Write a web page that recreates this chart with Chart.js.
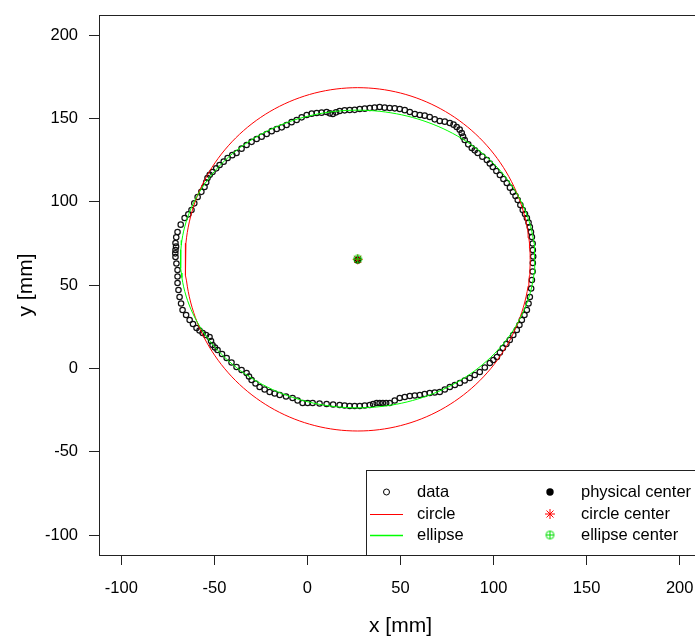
<!DOCTYPE html>
<html>
<head>
<meta charset="utf-8">
<script src="https://cdn.jsdelivr.net/npm/chart.js@4.4.1/dist/chart.umd.min.js"></script>
<style>
  html, body { margin: 0; padding: 0; background: #fff; overflow: hidden; }
  #wrap { width: 720px; height: 637px; }
</style>
</head>
<body>
<div id="wrap"><canvas id="chart"></canvas></div>
<script>
// outline points (mm), going clockwise from the left
const dataX = [-70.9,-70.6,-70.9,-70.5,-69.8,-68.1,-66.0,-64.0,-62.3,-60.8,
  -59.0,-57.0,-55.3,-54.4,-53.7,-52.5,-51.0,-49.0,-47.2,-45.0,
  -42.9,-40.4,-38.1,-35.4,-32.7,-30.0,-27.3,-24.6,-21.9,-19.2,
  -16.5,-13.8,-11.2,-8.5,-5.8,-3.1,-0.4,2.3,5.0,7.6,
  10.3,12.0,13.6,15.4,17.3,20.0,22.7,25.4,28.1,30.8,
  33.5,36.1,38.8,41.5,44.2,46.9,49.6,52.3,55.0,57.7,
  60.4,63.0,65.7,68.4,71.1,73.8,76.5,78.5,80.2,81.8,
  82.9,83.6,84.5,86.4,88.3,89.9,91.5,94.0,96.4,98.0,
  99.6,101.5,103.4,105.3,107.1,108.8,110.4,111.8,113.0,114.4,
  115.7,116.9,117.9,118.8,119.5,120.1,120.6,121.0,121.1,121.3,
  121.1,121.0,120.6,120.2,119.5,118.8,117.9,116.6,115.2,113.9,
  112.5,110.6,108.7,106.9,105.0,103.4,101.8,99.9,98.0,95.3,
  92.6,89.9,87.2,84.5,81.9,79.2,76.5,73.8,71.1,68.4,
  65.7,63.0,60.4,57.7,55.0,52.3,49.6,46.9,44.2,42.3,
  40.5,38.8,37.2,35.3,33.5,30.8,28.1,25.4,22.7,20.0,
  17.3,13.8,10.3,6.5,2.8,0.1,-2.6,-5.3,-8.0,-11.5,
  -14.9,-17.6,-20.3,-23.0,-25.7,-27.9,-30.0,-31.4,-32.7,-35.4,
  -38.1,-40.8,-43.4,-45.9,-48.3,-49.7,-51.0,-51.8,-52.6,-54.5,
  -56.3,-58.0,-59.6,-61.5,-63.3,-65.2,-67.1,-67.9,-68.7,-69.3,
  -69.8,-69.8,-69.8,-70.4,-70.9,-71.0];
const dataY = [71.0,73.0,75.2,78.6,81.8,86.2,90.2,92.4,95.0,99.0,
  102.8,105.9,108.8,111.6,114.2,116.1,117.8,120.0,122.0,124.0,
  126.2,127.9,129.2,131.8,134.0,135.9,137.6,139.0,140.6,142.3,
  143.6,144.6,146.0,147.7,149.0,150.6,152.0,152.8,153.2,153.4,
  153.8,153.0,152.6,153.6,154.4,154.8,155.0,155.1,155.6,155.8,
  156.2,156.4,156.8,156.4,156.2,156.0,155.6,154.9,153.8,152.6,
  152.0,151.6,150.8,149.4,148.4,148.0,147.2,146.2,144.8,143.2,
  141.2,139.0,137.0,134.4,132.2,130.8,129.2,127.0,125.0,122.9,
  120.8,118.4,116.0,113.6,111.2,108.4,105.8,103.4,101.0,98.0,
  95.0,92.6,90.2,87.5,84.8,81.8,78.8,74.9,71.0,67.1,
  63.2,58.1,53.0,47.9,42.8,38.9,35.0,32.0,29.0,26.0,
  23.0,20.0,17.0,14.6,12.2,9.5,6.8,5.0,3.2,0.5,
  -2.2,-4.0,-5.8,-7.3,-8.8,-10.0,-11.2,-12.7,-14.2,-14.5,
  -14.8,-15.4,-16.0,-16.3,-16.6,-17.2,-17.8,-19.3,-20.8,-20.8,
  -20.8,-20.8,-20.8,-21.4,-22.0,-22.3,-22.6,-22.6,-22.6,-22.3,
  -22.0,-21.7,-21.4,-21.1,-20.8,-20.8,-20.8,-19.3,-17.8,-16.9,
  -16.0,-15.1,-14.2,-12.7,-11.2,-9.1,-7.0,-4.9,-2.8,-1.0,
  0.8,3.5,6.2,8.6,11.0,12.5,14.0,16.4,18.8,20.0,
  21.2,22.7,24.2,26.6,29.0,32.0,35.0,38.9,42.8,47.0,
  51.2,55.1,59.0,62.9,66.8,69.0];

// fitted shapes: centre [x, y] and half-widths [x, y]
const circleCenter = [27, 65.4];
const circleRadius = [92.7, 103];
const ellipseCenter = [27, 65.6];
const ellipseRadius = [95.2, 89.3];
const physicalCenter = [27, 65];

const axisTicks = [-100, -50, 0, 50, 100, 150, 200];
const axisRange = [-112, 212];
const legendLabels = ['data', 'circle', 'ellipse', 'physical center', 'circle center', 'ellipse center'];

const FONT = '"Liberation Sans", Arial, sans-serif';

function outline(center, radius) {
    const pts = [];
    for (let i = 0; i <= 200; i++) {
        const a = i / 200 * 2 * Math.PI;
        pts.push({ x: center[0] + radius[0] * Math.cos(a), y: center[1] + radius[1] * Math.sin(a) });
    }
    return pts;
}

// R pch 10: circle with a plus
function circlePlus(color, r) {
    const c = document.createElement('canvas');
    const s = Math.ceil(r * 2 + 3);
    c.width = s; c.height = s;
    const g = c.getContext('2d');
    g.strokeStyle = color; g.lineWidth = 1;
    g.beginPath(); g.arc(s / 2, s / 2, r, 0, Math.PI * 2); g.stroke();
    g.beginPath();
    g.moveTo(s / 2 - r, s / 2); g.lineTo(s / 2 + r, s / 2);
    g.moveTo(s / 2, s / 2 - r); g.lineTo(s / 2, s / 2 + r);
    g.stroke();
    return c;
}
const ellCenterMark = circlePlus('#00dd00', 4);

const boxPlugin = {
    id: 'rBox',
    afterDraw(chart) {
        const { ctx, chartArea } = chart;
        ctx.save();
        ctx.strokeStyle = '#222';
        ctx.lineWidth = 1;
        const l = Math.round(chartArea.left) + 0.5, t = Math.round(chartArea.top) + 0.5;
        const r = Math.round(chartArea.right) + 0.5, b = Math.round(chartArea.bottom) + 0.5;
        ctx.strokeRect(l, t, r - l, b - t);

        // legend, bottom right like R's legend("bottomright", ncol = 2)
        const lx = 366.5, ly = 470.5;
        ctx.fillStyle = '#fff';
        ctx.fillRect(lx, ly, r - lx, b - ly);
        ctx.strokeRect(lx, ly, r - lx, b - ly);

        const rows = [492, 514, 535];
        ctx.font = '16.5px ' + FONT;
        ctx.fillStyle = '#000';
        ctx.textBaseline = 'middle';
        ctx.textAlign = 'left';
        legendLabels.forEach((txt, i) => {
            const col = Math.floor(i / 3);
            ctx.fillText(txt, col === 0 ? 417 : 581, rows[i % 3]);
        });

        // symbols
        ctx.lineWidth = 1;
        ctx.strokeStyle = '#000';
        ctx.beginPath(); ctx.arc(386.5, rows[0], 3, 0, Math.PI * 2); ctx.stroke();
        ctx.strokeStyle = '#ff0000';
        ctx.beginPath(); ctx.moveTo(370, rows[1] + 0.5); ctx.lineTo(403, rows[1] + 0.5); ctx.stroke();
        ctx.strokeStyle = '#00ff00';
        ctx.lineWidth = 1.3;
        ctx.beginPath(); ctx.moveTo(370, rows[2] + 0.5); ctx.lineTo(403, rows[2] + 0.5); ctx.stroke();
        ctx.lineWidth = 1;

        ctx.fillStyle = '#000';
        ctx.beginPath(); ctx.arc(550, rows[0], 3.7, 0, Math.PI * 2); ctx.fill();
        ctx.strokeStyle = '#ff0000';
        const ax = 550, ay = rows[1], ar = 5;
        ctx.beginPath();
        ctx.moveTo(ax - ar, ay); ctx.lineTo(ax + ar, ay);
        ctx.moveTo(ax, ay - ar); ctx.lineTo(ax, ay + ar);
        ctx.moveTo(ax - ar * 0.7, ay - ar * 0.7); ctx.lineTo(ax + ar * 0.7, ay + ar * 0.7);
        ctx.moveTo(ax - ar * 0.7, ay + ar * 0.7); ctx.lineTo(ax + ar * 0.7, ay - ar * 0.7);
        ctx.stroke();
        ctx.drawImage(ellCenterMark, 550 - ellCenterMark.width / 2, rows[2] - ellCenterMark.height / 2);
        ctx.restore();
    }
};

function axis(title, isX) {
    return {
        type: 'linear',
        min: axisRange[0],
        max: axisRange[1],
        afterBuildTicks: (scale) => { scale.ticks = axisTicks.map(v => ({ value: v })); },
        afterFit: (scale) => {
            if (isX) {
                scale.height = 82;
                scale.paddingLeft = 0; scale.paddingRight = 0;
            } else {
                scale.width = 99;
                scale.paddingTop = 0; scale.paddingBottom = 0;
            }
        },
        border: { display: false },
        grid: {
            display: true,
            drawOnChartArea: false,
            drawTicks: true,
            tickLength: 10,
            color: '#222',
            lineWidth: 1
        },
        ticks: {
            color: '#000',
            padding: isX ? 14 : 11,
            maxRotation: 0,
            font: { family: FONT, size: 16.5 },
            callback: v => String(v)
        },
        title: {
            display: true,
            text: title,
            color: '#000',
            font: { family: FONT, size: 21, lineHeight: 1 },
            padding: isX ? { top: 0, bottom: 0 } : { top: 16, bottom: 0 }
        }
    };
}

const ctx = document.getElementById('chart').getContext('2d');
new Chart(ctx, {
    type: 'scatter',
    data: {
        datasets: [
            {
                label: legendLabels[0],
                data: dataX.map((x, i) => ({ x: x, y: dataY[i] })),
                pointStyle: 'circle',
                pointRadius: 2.7,
                borderWidth: 1.2,
                borderColor: '#111',
                backgroundColor: 'rgba(0,0,0,0)',
                order: 6
            },
            {
                label: legendLabels[1],
                data: outline(circleCenter, circleRadius),
                showLine: true,
                pointRadius: 0,
                borderColor: '#ff0000',
                borderWidth: 1,
                fill: false,
                order: 5
            },
            {
                label: legendLabels[2],
                data: outline(ellipseCenter, ellipseRadius),
                showLine: true,
                pointRadius: 0,
                borderColor: '#00ff00',
                borderWidth: 1,
                fill: false,
                order: 4
            },
            {
                label: legendLabels[3],
                data: [{ x: physicalCenter[0], y: physicalCenter[1] }],
                pointStyle: 'circle',
                pointRadius: 3.7,
                borderWidth: 0,
                backgroundColor: '#000',
                order: 3
            },
            {
                label: legendLabels[4],
                data: [{ x: circleCenter[0], y: circleCenter[1] }],
                pointStyle: 'star',
                pointRadius: 5,
                borderWidth: 1,
                borderColor: '#ff0000',
                order: 2
            },
            {
                label: legendLabels[5],
                data: [{ x: ellipseCenter[0], y: ellipseCenter[1] }],
                pointStyle: ellCenterMark,
                pointRadius: 4,
                order: 1
            }
        ]
    },
    options: {
        responsive: true,
        maintainAspectRatio: false,
        animation: false,
        layout: { padding: { top: 15, right: 18, left: 0, bottom: 0 } },
        scales: {
            x: axis('x [mm]', true),
            y: axis('y [mm]', false)
        },
        plugins: {
            legend: { display: false },
            tooltip: { enabled: false }
        }
    },
    plugins: [boxPlugin]
});
</script>
</body>
</html>
